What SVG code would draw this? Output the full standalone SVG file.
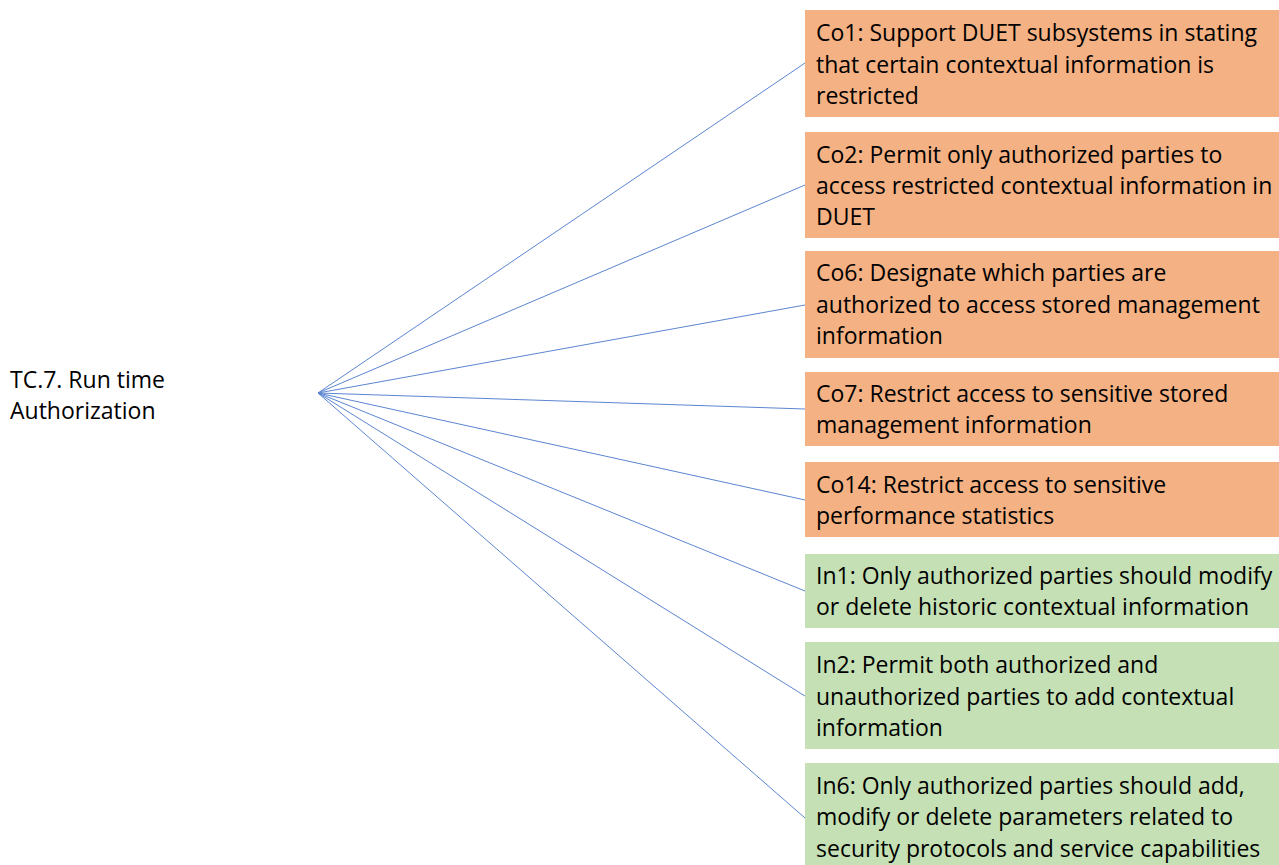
<svg xmlns="http://www.w3.org/2000/svg" width="1279" height="865" viewBox="0 0 1279 865">
  <style>
    .lbl { font-family: "Open Sans", "Liberation Sans", sans-serif; font-size: 23px; fill: #000; }
    .co { fill: #F4B183; }
    .in { fill: #C5E0B4; }
    .edge { stroke: #5B86D0; stroke-width: 1; fill: none; }
  </style>
  <rect width="1279" height="865" fill="#fff"/>

  <g id="connectors">
    <line class="edge" x1="318" y1="393" x2="805" y2="63"/>
    <line class="edge" x1="318" y1="393" x2="805" y2="185"/>
    <line class="edge" x1="318" y1="393" x2="805" y2="305"/>
    <line class="edge" x1="318" y1="393" x2="805" y2="409"/>
    <line class="edge" x1="318" y1="393" x2="805" y2="500"/>
    <line class="edge" x1="318" y1="393" x2="805" y2="591"/>
    <line class="edge" x1="318" y1="393" x2="805" y2="696"/>
    <line class="edge" x1="318" y1="393" x2="805" y2="818"/>
  </g>

  <g id="tc7">
    <text class="lbl" x="10" y="388">TC.7. Run time</text>
    <text class="lbl" x="10" y="419">Authorization</text>
  </g>

  <g id="co1">
    <rect class="co" x="805" y="10" width="474" height="107"/>
    <text class="lbl" x="816" y="41">Co1: Support DUET subsystems in stating</text>
    <text class="lbl" x="816" y="73">that certain contextual information is</text>
    <text class="lbl" x="816" y="104">restricted</text>
  </g>

  <g id="co2">
    <rect class="co" x="805" y="132" width="474" height="106"/>
    <text class="lbl" x="816" y="163">Co2: Permit only authorized parties to</text>
    <text class="lbl" x="816" y="194">access restricted contextual information in</text>
    <text class="lbl" x="816" y="225">DUET</text>
  </g>

  <g id="co6">
    <rect class="co" x="805" y="251" width="474" height="107"/>
    <text class="lbl" x="816" y="281">Co6: Designate which parties are</text>
    <text class="lbl" x="816" y="313">authorized to access stored management</text>
    <text class="lbl" x="816" y="344">information</text>
  </g>

  <g id="co7">
    <rect class="co" x="805" y="372" width="474" height="74"/>
    <text class="lbl" x="816" y="402">Co7: Restrict access to sensitive stored</text>
    <text class="lbl" x="816" y="433">management information</text>
  </g>

  <g id="co14">
    <rect class="co" x="805" y="462" width="474" height="75"/>
    <text class="lbl" x="816" y="493">Co14: Restrict access to sensitive</text>
    <text class="lbl" x="816" y="524">performance statistics</text>
  </g>

  <g id="in1">
    <rect class="in" x="805" y="554" width="474" height="74"/>
    <text class="lbl" x="816" y="584">In1: Only authorized parties should modify</text>
    <text class="lbl" x="816" y="615">or delete historic contextual information</text>
  </g>

  <g id="in2">
    <rect class="in" x="805" y="642" width="474" height="107"/>
    <text class="lbl" x="816" y="673">In2: Permit both authorized and</text>
    <text class="lbl" x="816" y="705">unauthorized parties to add contextual</text>
    <text class="lbl" x="816" y="736">information</text>
  </g>

  <g id="in6">
    <rect class="in" x="805" y="763" width="474" height="110"/>
    <text class="lbl" x="816" y="794">In6: Only authorized parties should add,</text>
    <text class="lbl" x="816" y="825">modify or delete parameters related to</text>
    <text class="lbl" x="816" y="857">security protocols and service capabilities</text>
  </g>
</svg>
